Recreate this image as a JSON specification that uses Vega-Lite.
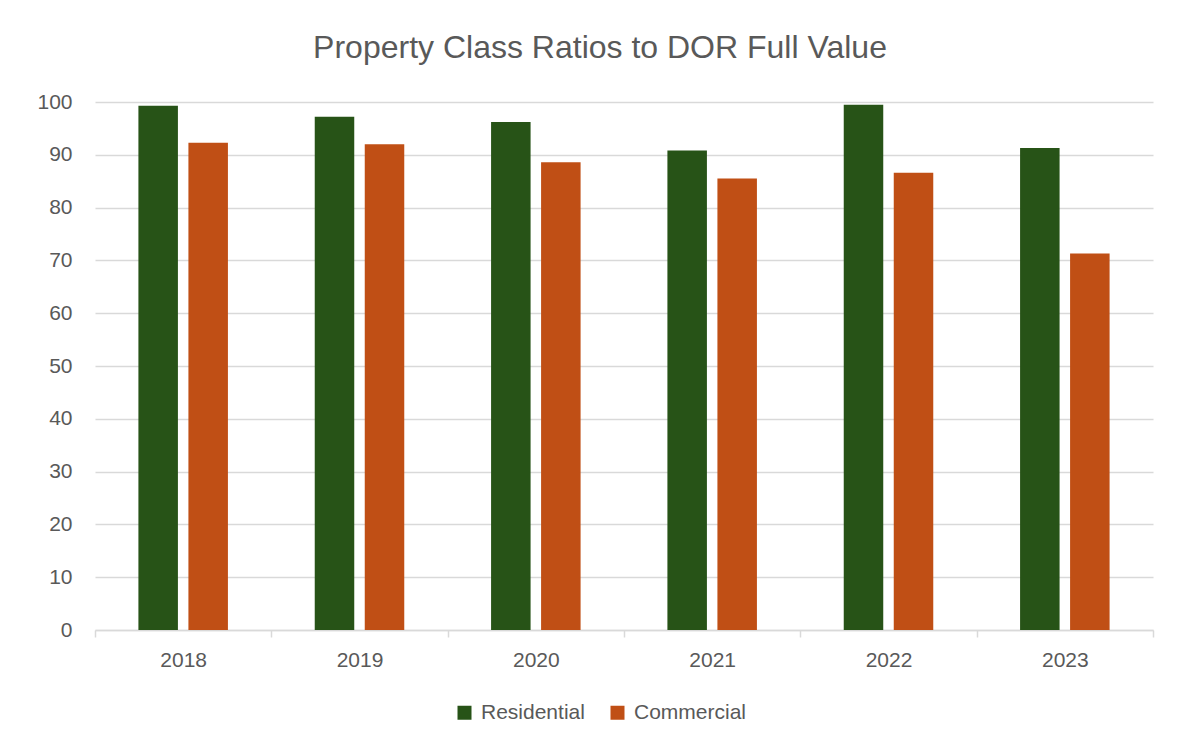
{
  "$schema": "https://vega.github.io/schema/vega-lite/v6.json",
  "width": 1058,
  "height": 528,
  "autosize": {"type": "none"},
  "padding": {"left": 95, "top": 102, "right": 35, "bottom": 116},
  "background": "white",
  "title": {
    "text": "Property Class Ratios to DOR Full Value",
    "font": "Liberation Sans",
    "fontSize": 32,
    "fontWeight": "normal",
    "color": "#595959",
    "anchor": "middle",
    "dx": -24,
    "baseline": "alphabetic",
    "offset": 1
  },
  "data": {
    "values": [
      {"year": "2018", "class": "Residential", "ratio": 99.3},
      {"year": "2018", "class": "Commercial", "ratio": 92.3},
      {"year": "2019", "class": "Residential", "ratio": 97.2},
      {"year": "2019", "class": "Commercial", "ratio": 92.0},
      {"year": "2020", "class": "Residential", "ratio": 96.2},
      {"year": "2020", "class": "Commercial", "ratio": 88.6},
      {"year": "2021", "class": "Residential", "ratio": 90.8},
      {"year": "2021", "class": "Commercial", "ratio": 85.5},
      {"year": "2022", "class": "Residential", "ratio": 99.5},
      {"year": "2022", "class": "Commercial", "ratio": 86.6},
      {"year": "2023", "class": "Residential", "ratio": 91.3},
      {"year": "2023", "class": "Commercial", "ratio": 71.3}
    ]
  },
  "mark": {"type": "bar"},
  "encoding": {
    "x": {
      "field": "year",
      "type": "nominal",
      "title": null,
      "scale": {"paddingInner": 0, "paddingOuter": 0},
      "axis": {
        "labelAngle": 0,
        "labelFont": "Liberation Sans",
        "labelFontSize": 21,
        "labelColor": "#595959",
        "labelPadding": 12,
        "domain": true,
        "domainColor": "#d9d9d9",
        "domainWidth": 1.5,
        "ticks": true,
        "tickColor": "#d9d9d9",
        "tickWidth": 1.5,
        "tickSize": 7,
        "tickBand": "extent",
        "grid": false
      }
    },
    "xOffset": {
      "field": "class",
      "type": "nominal",
      "sort": ["Residential", "Commercial"],
      "scale": {"paddingInner": 0.21, "paddingOuter": 0.868}
    },
    "y": {
      "field": "ratio",
      "type": "quantitative",
      "title": null,
      "scale": {"domain": [0, 100]},
      "axis": {
        "values": [0, 10, 20, 30, 40, 50, 60, 70, 80, 90, 100],
        "labelFont": "Liberation Sans",
        "labelFontSize": 21,
        "labelColor": "#595959",
        "labelPadding": 23,
        "domain": false,
        "ticks": false,
        "grid": true,
        "gridColor": "#d9d9d9",
        "gridWidth": 1.5
      }
    },
    "color": {
      "field": "class",
      "type": "nominal",
      "scale": {"domain": ["Residential", "Commercial"], "range": ["#275317", "#C04F15"]},
      "legend": {
        "title": null,
        "orient": "none",
        "legendX": 359,
        "legendY": 600,
        "direction": "horizontal",
        "padding": 0,
        "symbolType": "square",
        "symbolSize": 196,
        "symbolStrokeWidth": 0,
        "labelFont": "Liberation Sans",
        "labelFontSize": 21,
        "labelColor": "#595959",
        "labelOffset": 6,
        "columnPadding": 22
      }
    }
  },
  "config": {
    "view": {"stroke": null}
  }
}
